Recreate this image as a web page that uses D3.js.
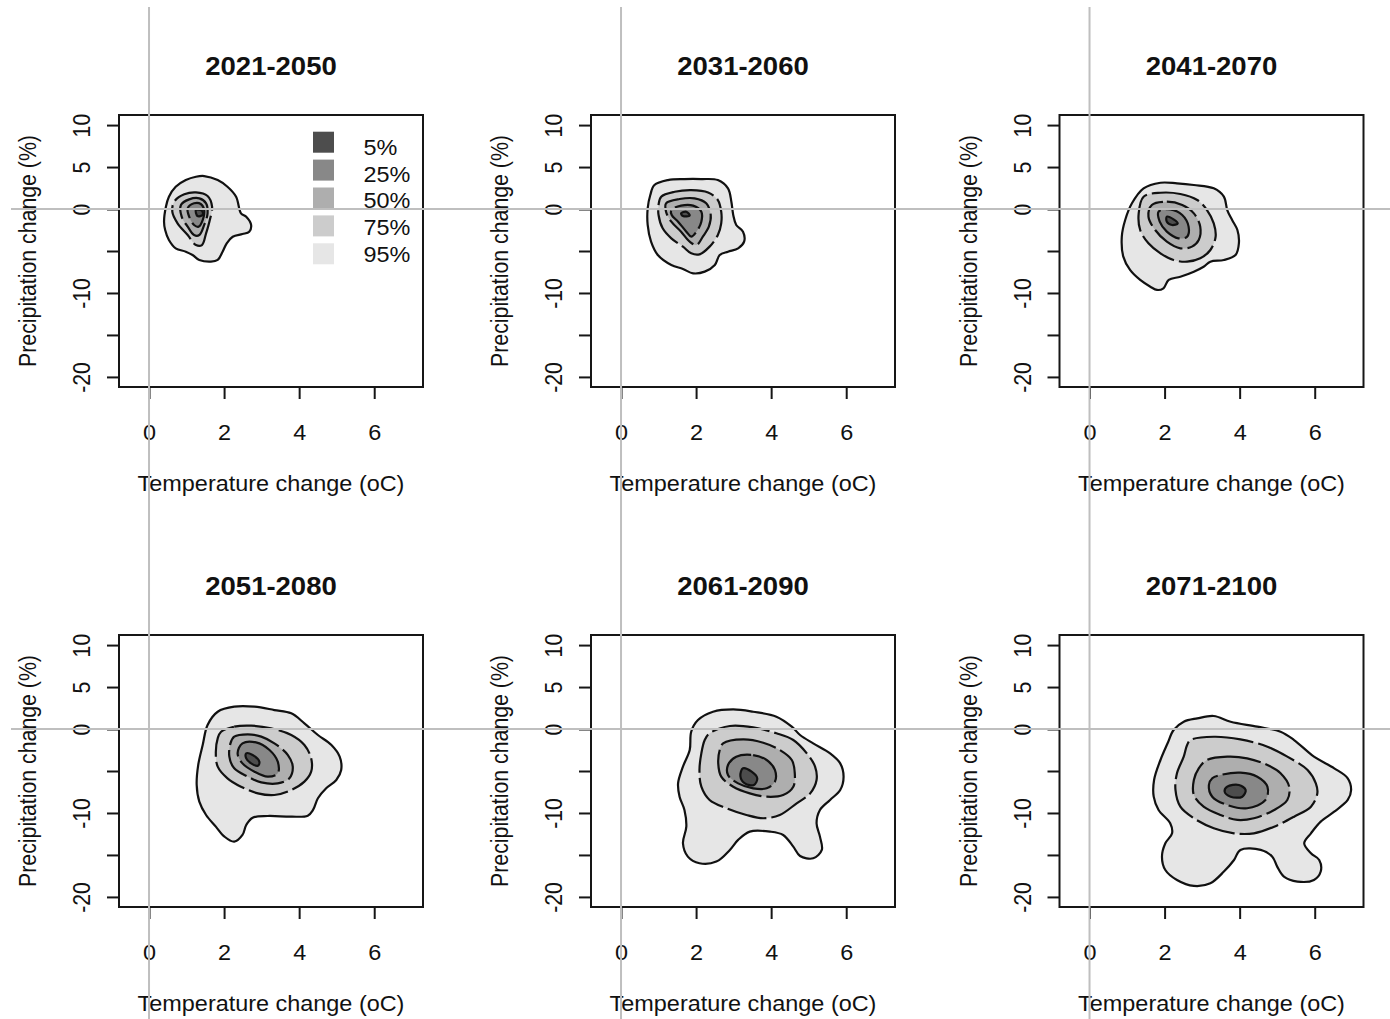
<!DOCTYPE html>
<html lang="en">
<head>
<meta charset="utf-8">
<title>Temperature and precipitation change</title>
<script src="https://cdn.jsdelivr.net/npm/d3@7"></script>
<style>
  body { margin: 0; background: #fff; }
  text { font-family: "Liberation Sans", Arial, sans-serif; font-size: 21.3px; fill: #111; }
  text.title { font-size: 25px; font-weight: bold; }
</style>
</head>
<body>
<script>
  // panel titles
  var periods = ["2021-2050", "2031-2060", "2041-2070", "2051-2080", "2061-2090", "2071-2100"];

  // legend
  var levels = ["5%", "25%", "50%", "75%", "95%"];
  var levelFills = ["#4d4d4d", "#888888", "#aeaeae", "#cccccc", "#e6e6e6"];

  // axes
  var xTicks = [0, 2, 4, 6];
  var yTicks = [-20, -15, -10, -5, 0, 5, 10];
  var yTickLabels = [-20, -10, 0, 5, 10];

  // contour rings as [temperature change, precipitation change], order 95%, 75%, 50%, 25%, 5%
  var rings2021 = [
    [[1.47,3.93],[1.83,3.45],[2.09,2.65],[2.32,1.46],[2.45,-0.51],[2.59,-0.92],[2.72,-1.90],[2.67,-2.70],[2.49,-2.98],[2.23,-3.30],[2.07,-4.08],[1.96,-5.08],[1.83,-6.07],[1.65,-6.27],[1.34,-6.07],[1.16,-5.48],[0.98,-5.08],[0.71,-4.68],[0.53,-3.69],[0.43,-2.50],[0.40,-1.51],[0.45,0.27],[0.53,1.46],[0.71,2.65],[0.98,3.45],[1.25,3.85]],
    [[0.67,0.87],[0.94,1.75],[1.25,1.98],[1.56,1.55],[1.68,0.28],[1.62,-1.31],[1.52,-2.90],[1.41,-4.29],[1.25,-4.29],[1.03,-3.10],[0.76,-1.71],[0.62,-0.32]],
    [[0.85,0.48],[1.07,1.15],[1.34,1.27],[1.52,0.68],[1.56,-0.52],[1.47,-1.90],[1.34,-3.10],[1.20,-3.10],[1.03,-2.10],[0.87,-0.91]],
    [[1.03,0.08],[1.20,0.68],[1.38,0.60],[1.47,-0.12],[1.43,-1.31],[1.32,-2.10],[1.20,-1.90],[1.07,-0.91]],
    [[1.25,-0.12],[1.41,-0.20],[1.43,-0.71],[1.29,-0.83]]
  ];
  var rings2031 = [
    [[0.89,2.86],[1.25,3.45],[1.69,3.57],[2.14,3.57],[2.58,3.45],[2.85,2.46],[2.94,0.87],[2.99,-0.71],[3.07,-1.90],[3.25,-2.70],[3.28,-3.89],[3.12,-4.68],[2.85,-5.08],[2.63,-5.48],[2.50,-6.67],[2.23,-7.46],[1.92,-7.66],[1.65,-7.14],[1.34,-6.67],[0.98,-5.48],[0.80,-3.89],[0.71,-1.90],[0.71,0.08],[0.78,1.67]],
    [[1.07,1.47],[1.43,2.06],[1.87,2.26],[2.32,1.98],[2.58,1.07],[2.67,-0.32],[2.67,-1.71],[2.58,-3.10],[2.36,-4.48],[2.09,-5.40],[1.87,-5.28],[1.65,-4.48],[1.34,-3.49],[1.11,-2.30],[1.00,-0.71],[1.00,0.48]],
    [[1.20,0.68],[1.56,1.19],[1.96,1.27],[2.27,0.68],[2.39,-0.71],[2.34,-2.10],[2.18,-3.29],[2.01,-4.29],[1.83,-3.89],[1.60,-2.70],[1.34,-1.51],[1.20,-0.32]],
    [[1.34,-0.12],[1.60,0.40],[1.92,0.40],[2.14,-0.32],[2.14,-1.51],[2.01,-2.70],[1.87,-3.29],[1.74,-2.70],[1.52,-1.51],[1.35,-0.71]],
    [[1.60,-0.52],[1.74,-0.32],[1.83,-0.79],[1.65,-0.83]]
  ];
  var rings2041 = [
    [[1.44,2.46],[1.89,3.13],[2.33,3.06],[2.78,2.86],[3.31,2.46],[3.58,1.47],[3.67,-0.12],[3.80,-1.31],[3.94,-2.50],[3.98,-4.08],[3.89,-5.48],[3.58,-6.07],[3.22,-6.27],[3.04,-6.87],[2.78,-7.46],[2.42,-8.06],[2.11,-8.45],[1.97,-9.44],[1.80,-9.64],[1.62,-9.25],[1.35,-8.45],[1.08,-7.26],[0.90,-5.67],[0.86,-3.29],[0.95,-1.31],[1.13,0.68]],
    [[1.44,1.47],[1.89,1.94],[2.42,1.79],[2.87,1.07],[3.13,-0.12],[3.31,-1.71],[3.36,-3.29],[3.22,-4.88],[2.95,-5.87],[2.60,-6.27],[2.24,-6.07],[1.89,-5.28],[1.57,-4.08],[1.35,-2.50],[1.31,-0.52]],
    [[1.66,0.48],[2.06,0.87],[2.47,0.48],[2.78,-0.52],[2.95,-2.10],[2.91,-3.69],[2.73,-4.48],[2.42,-4.68],[2.06,-3.89],[1.75,-2.50],[1.57,-0.91]],
    [[1.84,-0.32],[2.15,-0.04],[2.47,-0.71],[2.64,-2.10],[2.60,-3.29],[2.37,-3.49],[2.06,-2.70],[1.87,-1.51]],
    [[2.06,-0.91],[2.24,-1.23],[2.35,-1.71],[2.20,-1.90],[2.06,-1.51]]
  ];
  var rings2051 = [
    [[1.83,2.06],[2.27,2.66],[2.81,2.66],[3.34,2.26],[3.79,1.87],[4.14,0.68],[4.50,-0.71],[4.86,-1.90],[5.08,-3.29],[5.12,-4.88],[4.99,-6.07],[4.72,-7.06],[4.50,-8.25],[4.37,-9.64],[4.23,-10.32],[3.79,-10.44],[3.16,-10.36],[2.76,-10.56],[2.59,-11.43],[2.49,-12.62],[2.27,-13.42],[2.01,-12.82],[1.78,-11.63],[1.52,-10.24],[1.34,-8.65],[1.27,-6.67],[1.31,-4.29],[1.43,-1.90],[1.56,0.48]],
    [[1.92,-0.32],[2.27,0.28],[2.72,0.40],[3.25,0.08],[3.79,-0.71],[4.14,-1.90],[4.32,-3.49],[4.32,-5.08],[4.14,-6.27],[3.79,-7.26],[3.34,-7.86],[2.90,-7.66],[2.45,-6.87],[2.09,-5.87],[1.83,-4.48],[1.78,-2.70],[1.83,-1.11]],
    [[2.27,-0.91],[2.63,-0.63],[2.99,-0.91],[3.34,-1.71],[3.70,-3.10],[3.83,-4.48],[3.74,-5.87],[3.43,-6.47],[2.99,-6.35],[2.63,-5.67],[2.27,-4.68],[2.14,-3.29],[2.17,-1.71]],
    [[2.49,-1.71],[2.85,-1.59],[3.21,-2.50],[3.43,-3.89],[3.43,-5.28],[3.16,-5.67],[2.81,-5.08],[2.49,-4.09],[2.36,-2.90]],
    [[2.59,-2.90],[2.76,-3.10],[2.94,-3.89],[2.90,-4.37],[2.72,-4.09],[2.59,-3.49]]
  ];
  var rings2061 = [
    [[2.45,2.06],[2.99,2.34],[3.52,2.06],[4.14,1.47],[4.55,0.28],[4.77,-0.71],[5.12,-1.71],[5.57,-2.90],[5.84,-4.09],[5.93,-5.67],[5.84,-7.26],[5.57,-8.45],[5.30,-9.64],[5.21,-11.23],[5.30,-12.82],[5.35,-14.40],[5.12,-15.40],[4.77,-15.12],[4.59,-14.01],[4.32,-12.62],[3.97,-12.22],[3.43,-12.22],[3.12,-13.21],[2.90,-14.40],[2.54,-15.79],[2.09,-15.99],[1.78,-15.20],[1.65,-13.61],[1.74,-11.63],[1.69,-9.64],[1.56,-8.06],[1.52,-6.47],[1.65,-4.48],[1.83,-2.50],[1.87,-0.32],[2.05,1.07]],
    [[2.36,-0.51],[2.90,0.36],[3.52,0.20],[4.14,-0.51],[4.59,-1.31],[4.95,-2.90],[5.17,-4.48],[5.21,-6.07],[5.04,-7.66],[4.68,-8.85],[4.23,-10.24],[3.79,-10.63],[3.34,-10.24],[2.81,-9.44],[2.36,-8.45],[2.14,-6.87],[2.09,-4.88],[2.14,-2.90],[2.23,-1.31]],
    [[2.72,-1.71],[3.25,-1.23],[3.79,-1.63],[4.23,-2.50],[4.55,-3.69],[4.63,-5.28],[4.59,-6.87],[4.32,-7.86],[3.88,-8.06],[3.43,-7.66],[2.99,-6.87],[2.67,-5.67],[2.59,-4.09],[2.63,-2.50]],
    [[3.07,-3.29],[3.52,-3.10],[3.88,-3.69],[4.10,-4.88],[4.10,-6.27],[3.88,-7.06],[3.52,-7.06],[3.12,-6.47],[2.85,-5.48],[2.85,-4.29]],
    [[3.25,-4.68],[3.48,-5.08],[3.63,-5.87],[3.54,-6.67],[3.30,-6.47],[3.18,-5.60]]
  ];
  var rings2071 = [
    [[2.87,1.27],[3.31,1.55],[3.76,0.87],[4.47,0.28],[5.09,-0.32],[5.45,-1.31],[5.98,-3.29],[6.52,-4.68],[6.88,-5.87],[6.97,-7.26],[6.88,-8.45],[6.52,-9.84],[6.16,-11.03],[5.90,-12.42],[5.72,-13.61],[5.90,-14.80],[6.12,-15.60],[6.16,-16.98],[5.98,-17.98],[5.54,-18.17],[5.18,-17.58],[5.00,-16.39],[4.87,-15.20],[4.56,-14.40],[4.02,-14.40],[3.85,-15.60],[3.58,-16.98],[3.22,-18.37],[2.78,-18.69],[2.33,-17.98],[2.02,-16.79],[1.93,-15.20],[2.02,-13.61],[2.20,-12.42],[2.15,-11.23],[1.84,-9.64],[1.71,-8.06],[1.72,-6.07],[1.89,-3.69],[2.08,-1.70],[2.24,-0.12],[2.51,0.87]],
    [[2.69,-1.31],[3.31,-0.92],[4.02,-1.23],[4.74,-2.10],[5.27,-3.29],[5.81,-4.88],[6.03,-6.47],[6.07,-7.66],[5.90,-9.25],[5.45,-10.44],[4.92,-11.63],[4.38,-12.42],[3.85,-12.42],[3.31,-11.82],[2.78,-10.63],[2.42,-9.25],[2.29,-7.26],[2.33,-5.27],[2.51,-3.29],[2.60,-1.90]],
    [[3.13,-3.69],[3.67,-3.29],[4.20,-3.49],[4.74,-4.29],[5.09,-5.27],[5.32,-6.87],[5.27,-8.45],[4.92,-9.64],[4.38,-10.63],[3.94,-10.83],[3.49,-10.24],[3.04,-9.25],[2.78,-7.86],[2.78,-6.07],[2.91,-4.68]],
    [[3.49,-5.48],[4.02,-5.20],[4.47,-5.68],[4.74,-6.87],[4.69,-8.45],[4.20,-9.44],[3.67,-9.05],[3.27,-8.06],[3.18,-6.67],[3.27,-5.87]],
    [[3.67,-6.87],[3.98,-6.67],[4.16,-7.26],[4.07,-8.06],[3.76,-8.06],[3.60,-7.46]]
  ];
  var panelRings = [rings2021, rings2031, rings2041, rings2051, rings2061, rings2071];

  var w = 1390;
  var h = 1019;
  var colLeft = [119, 591, 1059.5];
  var rowTop = [115, 635];
  var boxW = 304;
  var boxH = 272;
  var stretch = 1.1;   // the figure is a bit wider than tall, text too
  var ringFills = ["#e6e6e6", "#cccccc", "#aeaeae", "#888888", "#4d4d4d"];
  var ringDash = [null, "40,5", "34,5", "40,5", null];

  var xScale = d3.scaleLinear().domain([-0.8, 7.3]).range([0, boxW]);
  var yScale = d3.scaleLinear().domain([-21.2, 11.2]).range([boxH, 0]);

  var ring = d3.line()
    .x(d => xScale(d[0]))
    .y(d => yScale(d[1]))
    .curve(d3.curveCatmullRomClosed.alpha(0.5));

  var svg = d3.select("body")
    .append("svg")
    .attr("width", w)
    .attr("height", h);

  svg.append("rect").attr("width", w).attr("height", h).attr("fill", "#fff");

  periods.forEach(function(period, i) {
    var col = i % 3;
    var row = Math.floor(i / 3);
    var g = svg.append("g")
      .attr("transform", "translate(" + colLeft[col] + "," + rowTop[row] + ")");

    g.selectAll("path.band")
      .data(panelRings[i])
      .enter()
      .append("path")
      .attr("class", "band")
      .attr("d", ring)
      .attr("fill", (d, k) => ringFills[k]);

    g.selectAll("path.iso")
      .data(panelRings[i])
      .enter()
      .append("path")
      .attr("class", "iso")
      .attr("d", ring)
      .attr("fill", "none")
      .attr("stroke", "#111")
      .attr("stroke-width", 2.2)
      .attr("stroke-dasharray", (d, k) => ringDash[k]);

    g.append("rect")
      .attr("width", boxW)
      .attr("height", boxH)
      .attr("fill", "none")
      .attr("stroke", "#161616")
      .attr("stroke-width", 2);

    var xAxis = d3.axisBottom(xScale).tickValues(xTicks).tickSize(12).tickFormat(d => String(d));
    var gx = g.append("g")
      .attr("transform", "translate(0," + boxH + ")")
      .call(xAxis);
    gx.select(".domain").remove();
    gx.selectAll("line").attr("stroke", "#161616").attr("stroke-width", 2);
    gx.selectAll("text")
      .attr("y", null)
      .attr("dy", null)
      .attr("transform", "translate(0,52.5) scale(" + stretch + ",1)");

    var yAxis = d3.axisLeft(yScale).tickValues(yTicks).tickSize(12)
      .tickFormat(d => yTickLabels.indexOf(d) >= 0 ? String(d) : "");
    var gy = g.append("g").call(yAxis);
    gy.select(".domain").remove();
    gy.selectAll("line").attr("stroke", "#161616").attr("stroke-width", 2);
    gy.selectAll("text")
      .attr("x", null)
      .attr("dy", null)
      .attr("text-anchor", "middle")
      .attr("transform", "translate(-29,0) scale(" + stretch + ",1) rotate(-90)");

    g.append("text")
      .attr("class", "title")
      .attr("text-anchor", "middle")
      .attr("transform", "translate(" + boxW / 2 + ",-40.5) scale(" + stretch + ",1)")
      .text(period);

    g.append("text")
      .attr("text-anchor", "middle")
      .attr("transform", "translate(" + boxW / 2 + "," + (boxH + 104) + ") scale(" + stretch + ",1)")
      .text("Temperature change (oC)");

    g.append("text")
      .attr("text-anchor", "middle")
      .attr("transform", "translate(-83," + boxH / 2 + ") scale(" + stretch + ",1) rotate(-90)")
      .text("Precipitation change (%)");

    if (i == 0) {
      var legend = g.append("g").attr("id", "legend");
      legend.selectAll("rect")
        .data(levels)
        .enter()
        .append("rect")
        .attr("x", 194)
        .attr("y", (d, k) => 16.7 + k * 27.9)
        .attr("width", 21)
        .attr("height", 21)
        .attr("fill", (d, k) => levelFills[k]);
      legend.selectAll("text")
        .data(levels)
        .enter()
        .append("text")
        .attr("transform", (d, k) => "translate(244.5," + (40 + k * 26.7) + ") scale(" + stretch + ",1)")
        .text(d => d);
    }
  });

  // zero reference lines across the whole figure
  colLeft.forEach(function(left) {
    svg.append("line")
      .attr("x1", left + xScale(0)).attr("x2", left + xScale(0))
      .attr("y1", 7).attr("y2", h)
      .attr("stroke", "#bfbfbf").attr("stroke-width", 2);
  });
  rowTop.forEach(function(top) {
    svg.append("line")
      .attr("x1", 11).attr("x2", w)
      .attr("y1", top + yScale(0)).attr("y2", top + yScale(0))
      .attr("stroke", "#bfbfbf").attr("stroke-width", 2);
  });
</script>
</body>
</html>
